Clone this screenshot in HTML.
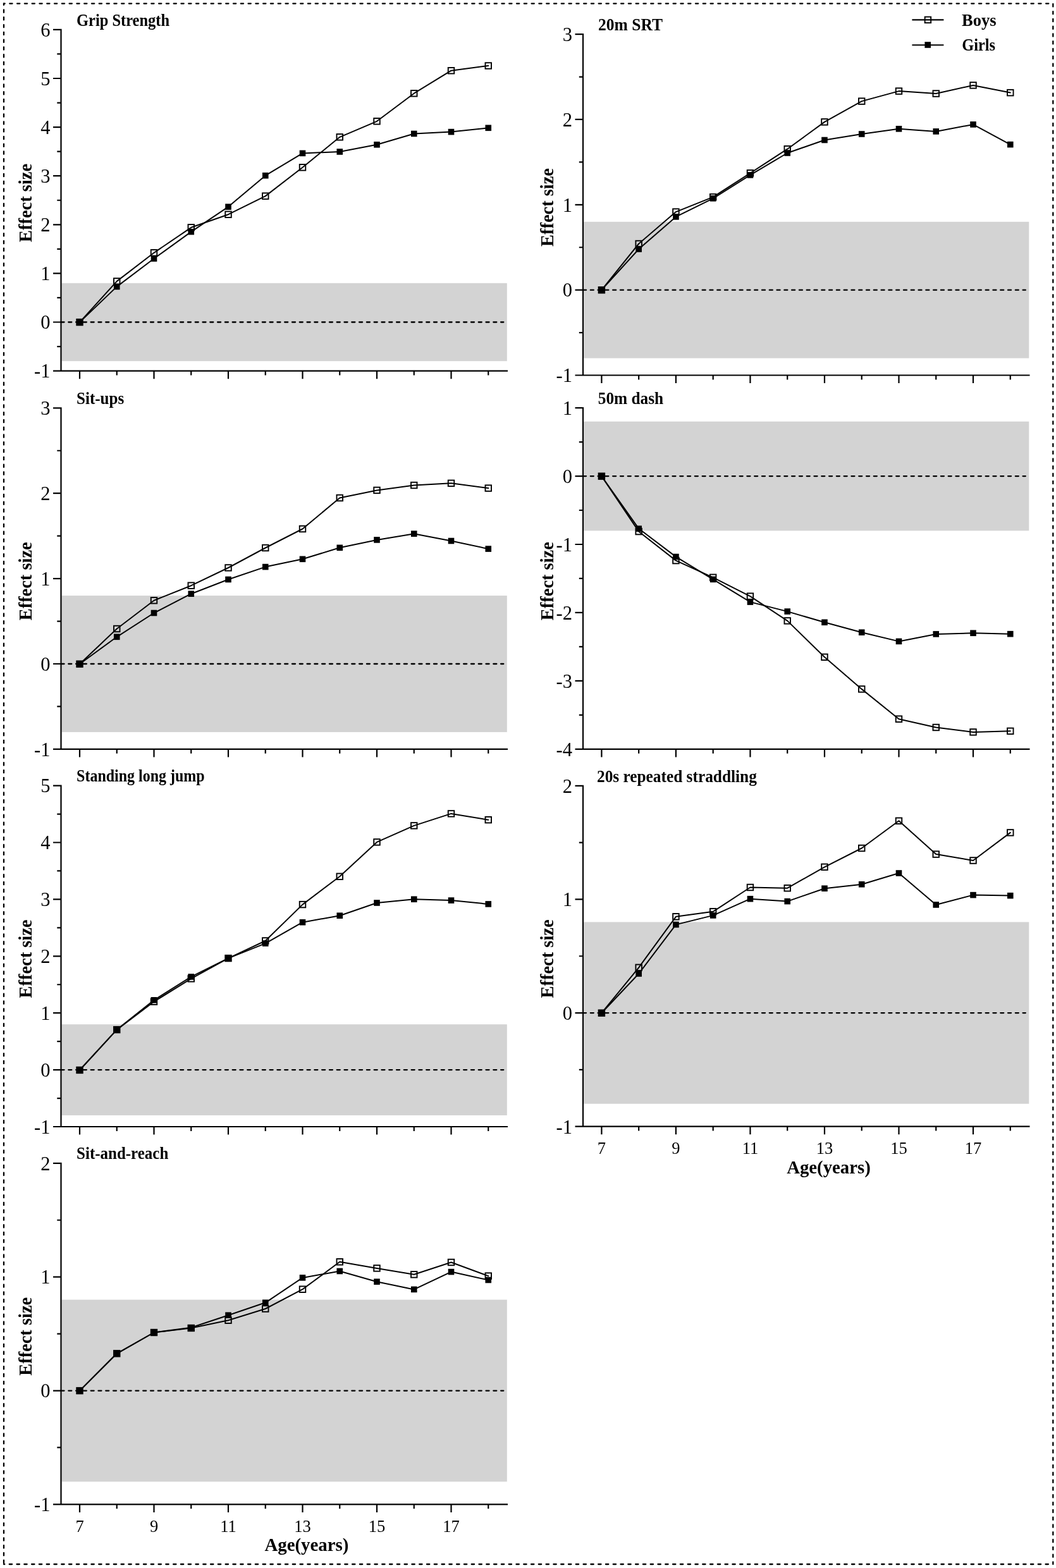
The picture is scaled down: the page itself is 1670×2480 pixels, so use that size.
<!DOCTYPE html>
<html><head><meta charset="utf-8"><title>Effect size by age</title>
<style>html,body{margin:0;padding:0;background:#fff;overflow:hidden;}svg{display:block;}text{font-family:"Liberation Serif", "Times New Roman", serif;fill:#000;}.b{font-weight:bold;}</style></head><body>
<svg width="1670" height="2480" viewBox="0 0 1670 2480">
<rect x="0" y="0" width="1670" height="2480" fill="#fff"/>
<line x1="6" y1="5.6" x2="1665.3" y2="5.6" stroke="#000" stroke-width="2.3" stroke-linecap="round" stroke-dasharray="4.3 7.49" stroke-dashoffset="2.54"/>
<line x1="6" y1="5.6" x2="6" y2="2474" stroke="#000" stroke-width="2.3" stroke-linecap="round" stroke-dasharray="4.3 7.49" stroke-dashoffset="1.94"/>
<line x1="1665.3" y1="5.6" x2="1665.3" y2="2474" stroke="#000" stroke-width="2.3" stroke-linecap="round" stroke-dasharray="4.3 7.49" stroke-dashoffset="11.14"/>
<line x1="6" y1="2474" x2="1665.3" y2="2474" stroke="#000" stroke-width="2.3" stroke-linecap="round" stroke-dasharray="4.3 7.49" stroke-dashoffset="3.04"/>
<g><rect x="97.6" y="447.82" width="704.2" height="123.36" fill="#d3d3d3"/><line x1="96.5" y1="509.5" x2="796.3" y2="509.5" stroke="#000" stroke-width="2.3" stroke-linecap="round" stroke-dasharray="5 6.79"/><path d="M96.5 45.8V586.6M84 586.6H803M84 46.9H96.5M90.3 85.45H96.5M84 124H96.5M90.3 162.55H96.5M84 201.1H96.5M90.3 239.65H96.5M84 278.2H96.5M90.3 316.75H96.5M84 355.3H96.5M90.3 393.85H96.5M84 432.4H96.5M90.3 470.95H96.5M84 509.5H96.5M90.3 548.05H96.5M126 586.6V599.2M184.75 586.6V593.5M243.5 586.6V599.2M302.25 586.6V593.5M361 586.6V599.2M419.75 586.6V593.5M478.5 586.6V599.2M537.25 586.6V593.5M596 586.6V599.2M654.75 586.6V593.5M713.5 586.6V599.2M772.25 586.6V593.5" fill="none" stroke="#000" stroke-width="2.2" stroke-linecap="butt"/><text x="79.5" y="57.7" font-size="30.5" text-anchor="end">6</text><text x="79.5" y="134.8" font-size="30.5" text-anchor="end">5</text><text x="79.5" y="211.9" font-size="30.5" text-anchor="end">4</text><text x="79.5" y="289" font-size="30.5" text-anchor="end">3</text><text x="79.5" y="366.1" font-size="30.5" text-anchor="end">2</text><text x="79.5" y="443.2" font-size="30.5" text-anchor="end">1</text><text x="79.5" y="520.3" font-size="30.5" text-anchor="end">0</text><text x="79.5" y="597.4" font-size="30.5" text-anchor="end">-1</text><text class="b" x="121" y="40.8" font-size="26.5" textLength="147" lengthAdjust="spacingAndGlyphs">Grip Strength</text><text class="b" x="0" y="0" font-size="30" text-anchor="middle" textLength="124" lengthAdjust="spacingAndGlyphs" transform="translate(49.5 320.95) rotate(-90)">Effect size</text><polyline points="126,509.6 184.75,444.9 243.5,399.8 302.25,359.8 361,339.2 419.75,310.1 478.5,264.8 537.25,216.8 596,191.8 654.75,147.7 713.5,111.7 772.25,104" fill="none" stroke="#000" stroke-width="2" stroke-linejoin="round" stroke-linecap="round"/><rect x="121.25" y="504.85" width="9.5" height="9.5" fill="none" stroke="#000" stroke-width="1.9"/><rect x="180" y="440.15" width="9.5" height="9.5" fill="none" stroke="#000" stroke-width="1.9"/><rect x="238.75" y="395.05" width="9.5" height="9.5" fill="none" stroke="#000" stroke-width="1.9"/><rect x="297.5" y="355.05" width="9.5" height="9.5" fill="none" stroke="#000" stroke-width="1.9"/><rect x="356.25" y="334.45" width="9.5" height="9.5" fill="none" stroke="#000" stroke-width="1.9"/><rect x="415" y="305.35" width="9.5" height="9.5" fill="none" stroke="#000" stroke-width="1.9"/><rect x="473.75" y="260.05" width="9.5" height="9.5" fill="none" stroke="#000" stroke-width="1.9"/><rect x="532.5" y="212.05" width="9.5" height="9.5" fill="none" stroke="#000" stroke-width="1.9"/><rect x="591.25" y="187.05" width="9.5" height="9.5" fill="none" stroke="#000" stroke-width="1.9"/><rect x="650" y="142.95" width="9.5" height="9.5" fill="none" stroke="#000" stroke-width="1.9"/><rect x="708.75" y="106.95" width="9.5" height="9.5" fill="none" stroke="#000" stroke-width="1.9"/><rect x="767.5" y="99.25" width="9.5" height="9.5" fill="none" stroke="#000" stroke-width="1.9"/><polyline points="126,509.6 184.75,453.4 243.5,409 302.25,366.6 361,327.1 419.75,277.7 478.5,242.4 537.25,240 596,228.8 654.75,211.5 713.5,208.6 772.25,202.3" fill="none" stroke="#000" stroke-width="2" stroke-linejoin="round" stroke-linecap="round"/><rect x="121.2" y="504.8" width="9.6" height="9.6" fill="#000"/><rect x="179.95" y="448.6" width="9.6" height="9.6" fill="#000"/><rect x="238.7" y="404.2" width="9.6" height="9.6" fill="#000"/><rect x="297.45" y="361.8" width="9.6" height="9.6" fill="#000"/><rect x="356.2" y="322.3" width="9.6" height="9.6" fill="#000"/><rect x="414.95" y="272.9" width="9.6" height="9.6" fill="#000"/><rect x="473.7" y="237.6" width="9.6" height="9.6" fill="#000"/><rect x="532.45" y="235.2" width="9.6" height="9.6" fill="#000"/><rect x="591.2" y="224" width="9.6" height="9.6" fill="#000"/><rect x="649.95" y="206.7" width="9.6" height="9.6" fill="#000"/><rect x="708.7" y="203.8" width="9.6" height="9.6" fill="#000"/><rect x="767.45" y="197.5" width="9.6" height="9.6" fill="#000"/></g>
<g><rect x="97.6" y="942.08" width="704.2" height="215.84" fill="#d3d3d3"/><line x1="96.5" y1="1050" x2="796.3" y2="1050" stroke="#000" stroke-width="2.3" stroke-linecap="round" stroke-dasharray="5 6.79"/><path d="M96.5 644.2V1184.9M84 1184.9H803M84 645.3H96.5M90.3 712.75H96.5M84 780.2H96.5M90.3 847.65H96.5M84 915.1H96.5M90.3 982.55H96.5M84 1050H96.5M90.3 1117.45H96.5M126 1184.9V1197.5M184.75 1184.9V1191.8M243.5 1184.9V1197.5M302.25 1184.9V1191.8M361 1184.9V1197.5M419.75 1184.9V1191.8M478.5 1184.9V1197.5M537.25 1184.9V1191.8M596 1184.9V1197.5M654.75 1184.9V1191.8M713.5 1184.9V1197.5M772.25 1184.9V1191.8" fill="none" stroke="#000" stroke-width="2.2" stroke-linecap="butt"/><text x="79.5" y="656.1" font-size="30.5" text-anchor="end">3</text><text x="79.5" y="791" font-size="30.5" text-anchor="end">2</text><text x="79.5" y="925.9" font-size="30.5" text-anchor="end">1</text><text x="79.5" y="1060.8" font-size="30.5" text-anchor="end">0</text><text x="79.5" y="1195.7" font-size="30.5" text-anchor="end">-1</text><text class="b" x="121.1" y="639" font-size="26.5" textLength="75.1" lengthAdjust="spacingAndGlyphs">Sit-ups</text><text class="b" x="0" y="0" font-size="30" text-anchor="middle" textLength="124" lengthAdjust="spacingAndGlyphs" transform="translate(49.5 919.3) rotate(-90)">Effect size</text><polyline points="126,1050.2 184.75,994.5 243.5,949.7 302.25,926.2 361,898 419.75,866.5 478.5,836.5 537.25,787.5 596,775.4 654.75,767.5 713.5,764.3 772.25,772.1" fill="none" stroke="#000" stroke-width="2" stroke-linejoin="round" stroke-linecap="round"/><rect x="121.25" y="1045.45" width="9.5" height="9.5" fill="none" stroke="#000" stroke-width="1.9"/><rect x="180" y="989.75" width="9.5" height="9.5" fill="none" stroke="#000" stroke-width="1.9"/><rect x="238.75" y="944.95" width="9.5" height="9.5" fill="none" stroke="#000" stroke-width="1.9"/><rect x="297.5" y="921.45" width="9.5" height="9.5" fill="none" stroke="#000" stroke-width="1.9"/><rect x="356.25" y="893.25" width="9.5" height="9.5" fill="none" stroke="#000" stroke-width="1.9"/><rect x="415" y="861.75" width="9.5" height="9.5" fill="none" stroke="#000" stroke-width="1.9"/><rect x="473.75" y="831.75" width="9.5" height="9.5" fill="none" stroke="#000" stroke-width="1.9"/><rect x="532.5" y="782.75" width="9.5" height="9.5" fill="none" stroke="#000" stroke-width="1.9"/><rect x="591.25" y="770.65" width="9.5" height="9.5" fill="none" stroke="#000" stroke-width="1.9"/><rect x="650" y="762.75" width="9.5" height="9.5" fill="none" stroke="#000" stroke-width="1.9"/><rect x="708.75" y="759.55" width="9.5" height="9.5" fill="none" stroke="#000" stroke-width="1.9"/><rect x="767.5" y="767.35" width="9.5" height="9.5" fill="none" stroke="#000" stroke-width="1.9"/><polyline points="126,1050.2 184.75,1007.3 243.5,969.5 302.25,939.2 361,916.5 419.75,896.6 478.5,884.3 537.25,866.3 596,853.9 654.75,844.2 713.5,855.5 772.25,868.1" fill="none" stroke="#000" stroke-width="2" stroke-linejoin="round" stroke-linecap="round"/><rect x="121.2" y="1045.4" width="9.6" height="9.6" fill="#000"/><rect x="179.95" y="1002.5" width="9.6" height="9.6" fill="#000"/><rect x="238.7" y="964.7" width="9.6" height="9.6" fill="#000"/><rect x="297.45" y="934.4" width="9.6" height="9.6" fill="#000"/><rect x="356.2" y="911.7" width="9.6" height="9.6" fill="#000"/><rect x="414.95" y="891.8" width="9.6" height="9.6" fill="#000"/><rect x="473.7" y="879.5" width="9.6" height="9.6" fill="#000"/><rect x="532.45" y="861.5" width="9.6" height="9.6" fill="#000"/><rect x="591.2" y="849.1" width="9.6" height="9.6" fill="#000"/><rect x="649.95" y="839.4" width="9.6" height="9.6" fill="#000"/><rect x="708.7" y="850.7" width="9.6" height="9.6" fill="#000"/><rect x="767.45" y="863.3" width="9.6" height="9.6" fill="#000"/></g>
<g><rect x="97.6" y="1620.18" width="704.2" height="143.84" fill="#d3d3d3"/><line x1="96.5" y1="1692.1" x2="796.3" y2="1692.1" stroke="#000" stroke-width="2.3" stroke-linecap="round" stroke-dasharray="5 6.79"/><path d="M96.5 1241.5V1782M84 1782H803M84 1242.6H96.5M90.3 1287.55H96.5M84 1332.5H96.5M90.3 1377.45H96.5M84 1422.4H96.5M90.3 1467.35H96.5M84 1512.3H96.5M90.3 1557.25H96.5M84 1602.2H96.5M90.3 1647.15H96.5M84 1692.1H96.5M90.3 1737.05H96.5M126 1782V1794.6M184.75 1782V1788.9M243.5 1782V1794.6M302.25 1782V1788.9M361 1782V1794.6M419.75 1782V1788.9M478.5 1782V1794.6M537.25 1782V1788.9M596 1782V1794.6M654.75 1782V1788.9M713.5 1782V1794.6M772.25 1782V1788.9" fill="none" stroke="#000" stroke-width="2.2" stroke-linecap="butt"/><text x="79.5" y="1253.4" font-size="30.5" text-anchor="end">5</text><text x="79.5" y="1343.3" font-size="30.5" text-anchor="end">4</text><text x="79.5" y="1433.2" font-size="30.5" text-anchor="end">3</text><text x="79.5" y="1523.1" font-size="30.5" text-anchor="end">2</text><text x="79.5" y="1613" font-size="30.5" text-anchor="end">1</text><text x="79.5" y="1702.9" font-size="30.5" text-anchor="end">0</text><text x="79.5" y="1792.8" font-size="30.5" text-anchor="end">-1</text><text class="b" x="121.1" y="1236.4" font-size="26.5" textLength="202.5" lengthAdjust="spacingAndGlyphs">Standing long jump</text><text class="b" x="0" y="0" font-size="30" text-anchor="middle" textLength="124" lengthAdjust="spacingAndGlyphs" transform="translate(49.5 1516.5) rotate(-90)">Effect size</text><polyline points="126,1692.5 184.75,1628.6 243.5,1584.2 302.25,1547.9 361,1515.6 419.75,1488 478.5,1430.6 537.25,1386.3 596,1331.9 654.75,1305.9 713.5,1286.9 772.25,1296.7" fill="none" stroke="#000" stroke-width="2" stroke-linejoin="round" stroke-linecap="round"/><rect x="121.25" y="1687.75" width="9.5" height="9.5" fill="none" stroke="#000" stroke-width="1.9"/><rect x="180" y="1623.85" width="9.5" height="9.5" fill="none" stroke="#000" stroke-width="1.9"/><rect x="238.75" y="1579.45" width="9.5" height="9.5" fill="none" stroke="#000" stroke-width="1.9"/><rect x="297.5" y="1543.15" width="9.5" height="9.5" fill="none" stroke="#000" stroke-width="1.9"/><rect x="356.25" y="1510.85" width="9.5" height="9.5" fill="none" stroke="#000" stroke-width="1.9"/><rect x="415" y="1483.25" width="9.5" height="9.5" fill="none" stroke="#000" stroke-width="1.9"/><rect x="473.75" y="1425.85" width="9.5" height="9.5" fill="none" stroke="#000" stroke-width="1.9"/><rect x="532.5" y="1381.55" width="9.5" height="9.5" fill="none" stroke="#000" stroke-width="1.9"/><rect x="591.25" y="1327.15" width="9.5" height="9.5" fill="none" stroke="#000" stroke-width="1.9"/><rect x="650" y="1301.15" width="9.5" height="9.5" fill="none" stroke="#000" stroke-width="1.9"/><rect x="708.75" y="1282.15" width="9.5" height="9.5" fill="none" stroke="#000" stroke-width="1.9"/><rect x="767.5" y="1291.95" width="9.5" height="9.5" fill="none" stroke="#000" stroke-width="1.9"/><polyline points="126,1692.5 184.75,1628.6 243.5,1581.8 302.25,1544.9 361,1515.6 419.75,1492.1 478.5,1458.7 537.25,1448.2 596,1428 654.75,1422.3 713.5,1424.1 772.25,1429.9" fill="none" stroke="#000" stroke-width="2" stroke-linejoin="round" stroke-linecap="round"/><rect x="121.2" y="1687.7" width="9.6" height="9.6" fill="#000"/><rect x="179.95" y="1623.8" width="9.6" height="9.6" fill="#000"/><rect x="238.7" y="1577" width="9.6" height="9.6" fill="#000"/><rect x="297.45" y="1540.1" width="9.6" height="9.6" fill="#000"/><rect x="356.2" y="1510.8" width="9.6" height="9.6" fill="#000"/><rect x="414.95" y="1487.3" width="9.6" height="9.6" fill="#000"/><rect x="473.7" y="1453.9" width="9.6" height="9.6" fill="#000"/><rect x="532.45" y="1443.4" width="9.6" height="9.6" fill="#000"/><rect x="591.2" y="1423.2" width="9.6" height="9.6" fill="#000"/><rect x="649.95" y="1417.5" width="9.6" height="9.6" fill="#000"/><rect x="708.7" y="1419.3" width="9.6" height="9.6" fill="#000"/><rect x="767.45" y="1425.1" width="9.6" height="9.6" fill="#000"/></g>
<g><rect x="97.6" y="2055.64" width="704.2" height="287.79" fill="#d3d3d3"/><line x1="96.5" y1="2199.53" x2="796.3" y2="2199.53" stroke="#000" stroke-width="2.3" stroke-linecap="round" stroke-dasharray="5 6.79"/><path d="M96.5 1838.7V2379.4M84 2379.4H803M84 1839.8H96.5M90.3 1929.73H96.5M84 2019.67H96.5M90.3 2109.6H96.5M84 2199.53H96.5M90.3 2289.47H96.5M126 2379.4V2392M184.75 2379.4V2386.3M243.5 2379.4V2392M302.25 2379.4V2386.3M361 2379.4V2392M419.75 2379.4V2386.3M478.5 2379.4V2392M537.25 2379.4V2386.3M596 2379.4V2392M654.75 2379.4V2386.3M713.5 2379.4V2392M772.25 2379.4V2386.3" fill="none" stroke="#000" stroke-width="2.2" stroke-linecap="butt"/><text x="79.5" y="1850.6" font-size="30.5" text-anchor="end">2</text><text x="79.5" y="2030.47" font-size="30.5" text-anchor="end">1</text><text x="79.5" y="2210.33" font-size="30.5" text-anchor="end">0</text><text x="79.5" y="2390.2" font-size="30.5" text-anchor="end">-1</text><text x="126" y="2423" font-size="26.5" text-anchor="middle">7</text><text x="243.5" y="2423" font-size="26.5" text-anchor="middle">9</text><text x="361" y="2423" font-size="26.5" text-anchor="middle">11</text><text x="478.5" y="2423" font-size="26.5" text-anchor="middle">13</text><text x="596" y="2423" font-size="26.5" text-anchor="middle">15</text><text x="713.5" y="2423" font-size="26.5" text-anchor="middle">17</text><text class="b" x="121.1" y="1833.4" font-size="26.5" textLength="145.2" lengthAdjust="spacingAndGlyphs">Sit-and-reach</text><text class="b" x="0" y="0" font-size="30" text-anchor="middle" textLength="124" lengthAdjust="spacingAndGlyphs" transform="translate(49.5 2113.8) rotate(-90)">Effect size</text><polyline points="126,2199.6 184.75,2140.8 243.5,2107.5 302.25,2100.5 361,2088.2 419.75,2070 478.5,2039.2 537.25,1995.8 596,2005.9 654.75,2015.8 713.5,1996.5 772.25,2018.1" fill="none" stroke="#000" stroke-width="2" stroke-linejoin="round" stroke-linecap="round"/><rect x="121.25" y="2194.85" width="9.5" height="9.5" fill="none" stroke="#000" stroke-width="1.9"/><rect x="180" y="2136.05" width="9.5" height="9.5" fill="none" stroke="#000" stroke-width="1.9"/><rect x="238.75" y="2102.75" width="9.5" height="9.5" fill="none" stroke="#000" stroke-width="1.9"/><rect x="297.5" y="2095.75" width="9.5" height="9.5" fill="none" stroke="#000" stroke-width="1.9"/><rect x="356.25" y="2083.45" width="9.5" height="9.5" fill="none" stroke="#000" stroke-width="1.9"/><rect x="415" y="2065.25" width="9.5" height="9.5" fill="none" stroke="#000" stroke-width="1.9"/><rect x="473.75" y="2034.45" width="9.5" height="9.5" fill="none" stroke="#000" stroke-width="1.9"/><rect x="532.5" y="1991.05" width="9.5" height="9.5" fill="none" stroke="#000" stroke-width="1.9"/><rect x="591.25" y="2001.15" width="9.5" height="9.5" fill="none" stroke="#000" stroke-width="1.9"/><rect x="650" y="2011.05" width="9.5" height="9.5" fill="none" stroke="#000" stroke-width="1.9"/><rect x="708.75" y="1991.75" width="9.5" height="9.5" fill="none" stroke="#000" stroke-width="1.9"/><rect x="767.5" y="2013.35" width="9.5" height="9.5" fill="none" stroke="#000" stroke-width="1.9"/><polyline points="126,2199.6 184.75,2140.8 243.5,2107.5 302.25,2099.8 361,2080.2 419.75,2060.3 478.5,2020.9 537.25,2010.5 596,2027.2 654.75,2039.4 713.5,2011.6 772.25,2024.5" fill="none" stroke="#000" stroke-width="2" stroke-linejoin="round" stroke-linecap="round"/><rect x="121.2" y="2194.8" width="9.6" height="9.6" fill="#000"/><rect x="179.95" y="2136" width="9.6" height="9.6" fill="#000"/><rect x="238.7" y="2102.7" width="9.6" height="9.6" fill="#000"/><rect x="297.45" y="2095" width="9.6" height="9.6" fill="#000"/><rect x="356.2" y="2075.4" width="9.6" height="9.6" fill="#000"/><rect x="414.95" y="2055.5" width="9.6" height="9.6" fill="#000"/><rect x="473.7" y="2016.1" width="9.6" height="9.6" fill="#000"/><rect x="532.45" y="2005.7" width="9.6" height="9.6" fill="#000"/><rect x="591.2" y="2022.4" width="9.6" height="9.6" fill="#000"/><rect x="649.95" y="2034.6" width="9.6" height="9.6" fill="#000"/><rect x="708.7" y="2006.8" width="9.6" height="9.6" fill="#000"/><rect x="767.45" y="2019.7" width="9.6" height="9.6" fill="#000"/></g>
<g><rect x="923.1" y="350.77" width="704.2" height="215.76" fill="#d3d3d3"/><line x1="922" y1="458.65" x2="1621.8" y2="458.65" stroke="#000" stroke-width="2.3" stroke-linecap="round" stroke-dasharray="5 6.79"/><path d="M922 53V593.5M909.5 593.5H1628.5M909.5 54.1H922M915.8 121.53H922M909.5 188.95H922M915.8 256.38H922M909.5 323.8H922M915.8 391.23H922M909.5 458.65H922M915.8 526.07H922M951.4 593.5V606.1M1010.16 593.5V600.4M1068.92 593.5V606.1M1127.68 593.5V600.4M1186.44 593.5V606.1M1245.2 593.5V600.4M1303.96 593.5V606.1M1362.72 593.5V600.4M1421.48 593.5V606.1M1480.24 593.5V600.4M1539 593.5V606.1M1597.76 593.5V600.4" fill="none" stroke="#000" stroke-width="2.2" stroke-linecap="butt"/><text x="905" y="64.9" font-size="30.5" text-anchor="end">3</text><text x="905" y="199.75" font-size="30.5" text-anchor="end">2</text><text x="905" y="334.6" font-size="30.5" text-anchor="end">1</text><text x="905" y="469.45" font-size="30.5" text-anchor="end">0</text><text x="905" y="604.3" font-size="30.5" text-anchor="end">-1</text><text class="b" x="946.1" y="47.5" font-size="26.5" textLength="101.9" lengthAdjust="spacingAndGlyphs">20m SRT</text><text class="b" x="0" y="0" font-size="30" text-anchor="middle" textLength="124" lengthAdjust="spacingAndGlyphs" transform="translate(875 328) rotate(-90)">Effect size</text><polyline points="951.4,458.7 1010.16,385.5 1068.92,335.1 1127.68,311.6 1186.44,273.8 1245.2,235.7 1303.96,192.9 1362.72,160.1 1421.48,144.1 1480.24,148 1539,134.9 1597.76,146.6" fill="none" stroke="#000" stroke-width="2" stroke-linejoin="round" stroke-linecap="round"/><rect x="946.65" y="453.95" width="9.5" height="9.5" fill="none" stroke="#000" stroke-width="1.9"/><rect x="1005.41" y="380.75" width="9.5" height="9.5" fill="none" stroke="#000" stroke-width="1.9"/><rect x="1064.17" y="330.35" width="9.5" height="9.5" fill="none" stroke="#000" stroke-width="1.9"/><rect x="1122.93" y="306.85" width="9.5" height="9.5" fill="none" stroke="#000" stroke-width="1.9"/><rect x="1181.69" y="269.05" width="9.5" height="9.5" fill="none" stroke="#000" stroke-width="1.9"/><rect x="1240.45" y="230.95" width="9.5" height="9.5" fill="none" stroke="#000" stroke-width="1.9"/><rect x="1299.21" y="188.15" width="9.5" height="9.5" fill="none" stroke="#000" stroke-width="1.9"/><rect x="1357.97" y="155.35" width="9.5" height="9.5" fill="none" stroke="#000" stroke-width="1.9"/><rect x="1416.73" y="139.35" width="9.5" height="9.5" fill="none" stroke="#000" stroke-width="1.9"/><rect x="1475.49" y="143.25" width="9.5" height="9.5" fill="none" stroke="#000" stroke-width="1.9"/><rect x="1534.25" y="130.15" width="9.5" height="9.5" fill="none" stroke="#000" stroke-width="1.9"/><rect x="1593.01" y="141.85" width="9.5" height="9.5" fill="none" stroke="#000" stroke-width="1.9"/><polyline points="951.4,458.7 1010.16,394 1068.92,342.9 1127.68,313.8 1186.44,276.9 1245.2,242 1303.96,221.5 1362.72,212 1421.48,203.8 1480.24,207.9 1539,196.9 1597.76,228.6" fill="none" stroke="#000" stroke-width="2" stroke-linejoin="round" stroke-linecap="round"/><rect x="946.6" y="453.9" width="9.6" height="9.6" fill="#000"/><rect x="1005.36" y="389.2" width="9.6" height="9.6" fill="#000"/><rect x="1064.12" y="338.1" width="9.6" height="9.6" fill="#000"/><rect x="1122.88" y="309" width="9.6" height="9.6" fill="#000"/><rect x="1181.64" y="272.1" width="9.6" height="9.6" fill="#000"/><rect x="1240.4" y="237.2" width="9.6" height="9.6" fill="#000"/><rect x="1299.16" y="216.7" width="9.6" height="9.6" fill="#000"/><rect x="1357.92" y="207.2" width="9.6" height="9.6" fill="#000"/><rect x="1416.68" y="199" width="9.6" height="9.6" fill="#000"/><rect x="1475.44" y="203.1" width="9.6" height="9.6" fill="#000"/><rect x="1534.2" y="192.1" width="9.6" height="9.6" fill="#000"/><rect x="1592.96" y="223.8" width="9.6" height="9.6" fill="#000"/></g>
<g><rect x="923.1" y="666.69" width="704.2" height="172.7" fill="#d3d3d3"/><line x1="922" y1="753.04" x2="1621.8" y2="753.04" stroke="#000" stroke-width="2.3" stroke-linecap="round" stroke-dasharray="5 6.79"/><path d="M922 644V1184.8M909.5 1184.8H1628.5M909.5 645.1H922M915.8 699.07H922M909.5 753.04H922M915.8 807.01H922M909.5 860.98H922M915.8 914.95H922M909.5 968.92H922M915.8 1022.89H922M909.5 1076.86H922M915.8 1130.83H922M951.4 1184.8V1197.4M1010.16 1184.8V1191.7M1068.92 1184.8V1197.4M1127.68 1184.8V1191.7M1186.44 1184.8V1197.4M1245.2 1184.8V1191.7M1303.96 1184.8V1197.4M1362.72 1184.8V1191.7M1421.48 1184.8V1197.4M1480.24 1184.8V1191.7M1539 1184.8V1197.4M1597.76 1184.8V1191.7" fill="none" stroke="#000" stroke-width="2.2" stroke-linecap="butt"/><text x="905" y="655.9" font-size="30.5" text-anchor="end">1</text><text x="905" y="763.84" font-size="30.5" text-anchor="end">0</text><text x="905" y="871.78" font-size="30.5" text-anchor="end">-1</text><text x="905" y="979.72" font-size="30.5" text-anchor="end">-2</text><text x="905" y="1087.66" font-size="30.5" text-anchor="end">-3</text><text x="905" y="1195.6" font-size="30.5" text-anchor="end">-4</text><text class="b" x="945.8" y="639.1" font-size="26.5" textLength="103.4" lengthAdjust="spacingAndGlyphs">50m dash</text><text class="b" x="0" y="0" font-size="30" text-anchor="middle" textLength="124" lengthAdjust="spacingAndGlyphs" transform="translate(875 919.15) rotate(-90)">Effect size</text><polyline points="951.4,753.2 1010.16,840.6 1068.92,886.6 1127.68,913.3 1186.44,943.1 1245.2,981.9 1303.96,1039.3 1362.72,1089.9 1421.48,1137.2 1480.24,1150.5 1539,1157.9 1597.76,1156.3" fill="none" stroke="#000" stroke-width="2" stroke-linejoin="round" stroke-linecap="round"/><rect x="946.65" y="748.45" width="9.5" height="9.5" fill="none" stroke="#000" stroke-width="1.9"/><rect x="1005.41" y="835.85" width="9.5" height="9.5" fill="none" stroke="#000" stroke-width="1.9"/><rect x="1064.17" y="881.85" width="9.5" height="9.5" fill="none" stroke="#000" stroke-width="1.9"/><rect x="1122.93" y="908.55" width="9.5" height="9.5" fill="none" stroke="#000" stroke-width="1.9"/><rect x="1181.69" y="938.35" width="9.5" height="9.5" fill="none" stroke="#000" stroke-width="1.9"/><rect x="1240.45" y="977.15" width="9.5" height="9.5" fill="none" stroke="#000" stroke-width="1.9"/><rect x="1299.21" y="1034.55" width="9.5" height="9.5" fill="none" stroke="#000" stroke-width="1.9"/><rect x="1357.97" y="1085.15" width="9.5" height="9.5" fill="none" stroke="#000" stroke-width="1.9"/><rect x="1416.73" y="1132.45" width="9.5" height="9.5" fill="none" stroke="#000" stroke-width="1.9"/><rect x="1475.49" y="1145.75" width="9.5" height="9.5" fill="none" stroke="#000" stroke-width="1.9"/><rect x="1534.25" y="1153.15" width="9.5" height="9.5" fill="none" stroke="#000" stroke-width="1.9"/><rect x="1593.01" y="1151.55" width="9.5" height="9.5" fill="none" stroke="#000" stroke-width="1.9"/><polyline points="951.4,753.2 1010.16,836.2 1068.92,880.6 1127.68,916.4 1186.44,952.1 1245.2,967.1 1303.96,984.3 1362.72,1000.2 1421.48,1014.4 1480.24,1002.9 1539,1001.3 1597.76,1002.7" fill="none" stroke="#000" stroke-width="2" stroke-linejoin="round" stroke-linecap="round"/><rect x="946.6" y="748.4" width="9.6" height="9.6" fill="#000"/><rect x="1005.36" y="831.4" width="9.6" height="9.6" fill="#000"/><rect x="1064.12" y="875.8" width="9.6" height="9.6" fill="#000"/><rect x="1122.88" y="911.6" width="9.6" height="9.6" fill="#000"/><rect x="1181.64" y="947.3" width="9.6" height="9.6" fill="#000"/><rect x="1240.4" y="962.3" width="9.6" height="9.6" fill="#000"/><rect x="1299.16" y="979.5" width="9.6" height="9.6" fill="#000"/><rect x="1357.92" y="995.4" width="9.6" height="9.6" fill="#000"/><rect x="1416.68" y="1009.6" width="9.6" height="9.6" fill="#000"/><rect x="1475.44" y="998.1" width="9.6" height="9.6" fill="#000"/><rect x="1534.2" y="996.5" width="9.6" height="9.6" fill="#000"/><rect x="1592.96" y="997.9" width="9.6" height="9.6" fill="#000"/></g>
<g><rect x="923.1" y="1458.36" width="704.2" height="287.41" fill="#d3d3d3"/><line x1="922" y1="1602.07" x2="1621.8" y2="1602.07" stroke="#000" stroke-width="2.3" stroke-linecap="round" stroke-dasharray="5 6.79"/><path d="M922 1241.7V1781.7M909.5 1781.7H1628.5M909.5 1242.8H922M915.8 1332.62H922M909.5 1422.43H922M915.8 1512.25H922M909.5 1602.07H922M915.8 1691.88H922M951.4 1781.7V1794.3M1010.16 1781.7V1788.6M1068.92 1781.7V1794.3M1127.68 1781.7V1788.6M1186.44 1781.7V1794.3M1245.2 1781.7V1788.6M1303.96 1781.7V1794.3M1362.72 1781.7V1788.6M1421.48 1781.7V1794.3M1480.24 1781.7V1788.6M1539 1781.7V1794.3M1597.76 1781.7V1788.6" fill="none" stroke="#000" stroke-width="2.2" stroke-linecap="butt"/><text x="905" y="1253.6" font-size="30.5" text-anchor="end">2</text><text x="905" y="1433.23" font-size="30.5" text-anchor="end">1</text><text x="905" y="1612.87" font-size="30.5" text-anchor="end">0</text><text x="905" y="1792.5" font-size="30.5" text-anchor="end">-1</text><text x="951.4" y="1825.3" font-size="26.5" text-anchor="middle">7</text><text x="1068.92" y="1825.3" font-size="26.5" text-anchor="middle">9</text><text x="1186.44" y="1825.3" font-size="26.5" text-anchor="middle">11</text><text x="1303.96" y="1825.3" font-size="26.5" text-anchor="middle">13</text><text x="1421.48" y="1825.3" font-size="26.5" text-anchor="middle">15</text><text x="1539" y="1825.3" font-size="26.5" text-anchor="middle">17</text><text class="b" x="944" y="1236.6" font-size="26.5" textLength="252.8" lengthAdjust="spacingAndGlyphs">20s repeated straddling</text><text class="b" x="0" y="0" font-size="30" text-anchor="middle" textLength="124" lengthAdjust="spacingAndGlyphs" transform="translate(875 1516.45) rotate(-90)">Effect size</text><polyline points="951.4,1602.2 1010.16,1530.3 1068.92,1449.8 1127.68,1441.8 1186.44,1403.5 1245.2,1404.7 1303.96,1371.3 1362.72,1341.5 1421.48,1298.3 1480.24,1351.1 1539,1361 1597.76,1316.9" fill="none" stroke="#000" stroke-width="2" stroke-linejoin="round" stroke-linecap="round"/><rect x="946.65" y="1597.45" width="9.5" height="9.5" fill="none" stroke="#000" stroke-width="1.9"/><rect x="1005.41" y="1525.55" width="9.5" height="9.5" fill="none" stroke="#000" stroke-width="1.9"/><rect x="1064.17" y="1445.05" width="9.5" height="9.5" fill="none" stroke="#000" stroke-width="1.9"/><rect x="1122.93" y="1437.05" width="9.5" height="9.5" fill="none" stroke="#000" stroke-width="1.9"/><rect x="1181.69" y="1398.75" width="9.5" height="9.5" fill="none" stroke="#000" stroke-width="1.9"/><rect x="1240.45" y="1399.95" width="9.5" height="9.5" fill="none" stroke="#000" stroke-width="1.9"/><rect x="1299.21" y="1366.55" width="9.5" height="9.5" fill="none" stroke="#000" stroke-width="1.9"/><rect x="1357.97" y="1336.75" width="9.5" height="9.5" fill="none" stroke="#000" stroke-width="1.9"/><rect x="1416.73" y="1293.55" width="9.5" height="9.5" fill="none" stroke="#000" stroke-width="1.9"/><rect x="1475.49" y="1346.35" width="9.5" height="9.5" fill="none" stroke="#000" stroke-width="1.9"/><rect x="1534.25" y="1356.25" width="9.5" height="9.5" fill="none" stroke="#000" stroke-width="1.9"/><rect x="1593.01" y="1312.15" width="9.5" height="9.5" fill="none" stroke="#000" stroke-width="1.9"/><polyline points="951.4,1602.2 1010.16,1540 1068.92,1462.4 1127.68,1447.9 1186.44,1421.7 1245.2,1425.6 1303.96,1405.2 1362.72,1398.7 1421.48,1381 1480.24,1431 1539,1415.6 1597.76,1416.6" fill="none" stroke="#000" stroke-width="2" stroke-linejoin="round" stroke-linecap="round"/><rect x="946.6" y="1597.4" width="9.6" height="9.6" fill="#000"/><rect x="1005.36" y="1535.2" width="9.6" height="9.6" fill="#000"/><rect x="1064.12" y="1457.6" width="9.6" height="9.6" fill="#000"/><rect x="1122.88" y="1443.1" width="9.6" height="9.6" fill="#000"/><rect x="1181.64" y="1416.9" width="9.6" height="9.6" fill="#000"/><rect x="1240.4" y="1420.8" width="9.6" height="9.6" fill="#000"/><rect x="1299.16" y="1400.4" width="9.6" height="9.6" fill="#000"/><rect x="1357.92" y="1393.9" width="9.6" height="9.6" fill="#000"/><rect x="1416.68" y="1376.2" width="9.6" height="9.6" fill="#000"/><rect x="1475.44" y="1426.2" width="9.6" height="9.6" fill="#000"/><rect x="1534.2" y="1410.8" width="9.6" height="9.6" fill="#000"/><rect x="1592.96" y="1411.8" width="9.6" height="9.6" fill="#000"/></g>
<text class="b" x="418.4" y="2453.3" font-size="30" textLength="133.1" lengthAdjust="spacingAndGlyphs">Age(years)</text>
<text class="b" x="1244.2" y="1855.7" font-size="30" textLength="132.6" lengthAdjust="spacingAndGlyphs">Age(years)</text>
<line x1="1442.4" y1="31.4" x2="1492.4" y2="31.4" stroke="#000" stroke-width="2.1"/>
<rect x="1462.65" y="26.65" width="9.5" height="9.5" fill="none" stroke="#000" stroke-width="1.9"/>
<line x1="1442.4" y1="71.2" x2="1492.4" y2="71.2" stroke="#000" stroke-width="2.1"/>
<rect x="1462.4" y="66.2" width="9.6" height="9.6" fill="#000"/>
<text class="b" x="1521" y="40.6" font-size="26.5" textLength="54.6" lengthAdjust="spacingAndGlyphs">Boys</text>
<text class="b" x="1521.3" y="80.4" font-size="26.5" textLength="52.8" lengthAdjust="spacingAndGlyphs">Girls</text>
</svg></body></html>
